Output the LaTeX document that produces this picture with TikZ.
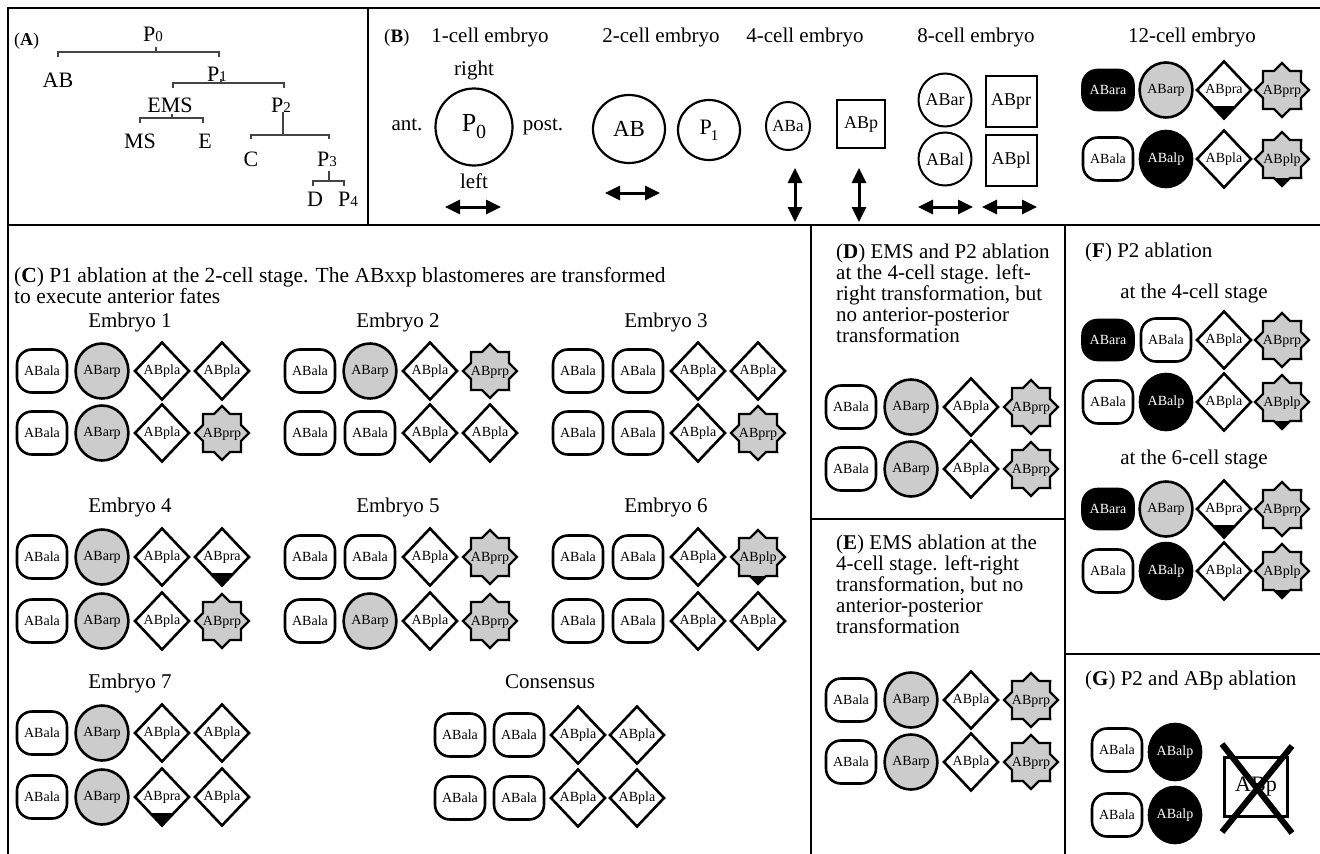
\documentclass[tikz,border=0pt]{standalone}
\usepackage{fontspec}
\setmainfont{Liberation Serif}
\usetikzlibrary{shapes.geometric,arrows.meta,calc}
\definecolor{cellgray}{HTML}{CCCCCC}
\definecolor{treegray}{HTML}{444444}
\newcommand\fsz[1]{\fontsize{#1}{#1}\selectfont}
\newcommand\zt[1]{\makebox[0pt]{\raisebox{-4.9pt}[0pt][0pt]{#1}}}
\tikzset{
 frame/.style={line width=2.4pt},
 cellbase/.style={line width=2.6pt, inner sep=0pt, outer sep=0pt, font=\fsz{14}},
 cw/.style={cellbase, draw, fill=white, rounded corners=15pt, minimum width=50pt, minimum height=43pt},
 cg/.style={cellbase, ellipse, draw, fill=cellgray, minimum width=48pt, minimum height=55pt},
 cd/.style={cellbase, diamond, draw, fill=white, minimum width=54pt, minimum height=57pt},
 cs/.style={cellbase, star, star points=8, star point ratio=1.31, draw, fill=cellgray, minimum size=54pt, line width=2.3pt},
 ck/.style={cellbase, draw, fill=black, text=white, rounded corners=15pt, minimum width=51pt, minimum height=40pt},
 ce/.style={cellbase, ellipse, draw, fill=black, text=white, minimum width=52pt, minimum height=56pt},
 txt/.style={font=\fsz{21}, inner sep=0pt, anchor=base west},
 ctxt/.style={font=\fsz{21}, inner sep=0pt, anchor=base},
 tree/.style={font=\fsz{22}, inner sep=0pt, anchor=base},
 tline/.style={draw=treegray, line width=1.3pt},
 dbl/.style={line width=3pt, {Triangle[length=15pt,width=14pt]}-{Triangle[length=15pt,width=14pt]}},
 bcell/.style={draw, line width=2pt, inner sep=0pt, font=\fsz{18}},
}
\newcommand\cellW[2]{\node[cw] (#1) at (#2) {ABala};}
\newcommand\cellG[2]{\node[cg] (#1) at (#2) {ABarp};}
\newcommand\cellD[2]{\node[cd] (#1) at (#2) {ABpla};}
\newcommand\cellT[2]{\node[cd] (#1) at (#2) {ABpra};
  \fill ($(#1.south)+(-11.8,-12.5)$) -- ($(#1.south)+(11.8,-12.5)$) -- (#1.south) -- cycle;}
\newcommand\cellS[2]{\node[cs] (#1) at (#2) {\zt{ABprp}};}
\newcommand\cellP[2]{\node[cs] (#1) at (#2) {\zt{ABplp}};
  \fill (#1.inner point 4) -- (#1.outer point 5) -- (#1.inner point 5) -- cycle;}
\newcommand\cellK[2]{\node[ck] (#1) at (#2) {ABara};}
\newcommand\cellE[2]{\node[ce] (#1) at (#2) {ABalp};}
\newcommand\cellrow[8]{%
 \csname cell#5\endcsname{#1-1}{#2,#4}%
 \csname cell#6\endcsname{#1-2}{#2+#3,#4}%
 \csname cell#7\endcsname{#1-3}{#2+2*#3,#4}%
 \csname cell#8\endcsname{#1-4}{#2+3*#3,#4}}
\begin{document}
\begin{tikzpicture}[x=1pt,y=-1pt]
\useasboundingbox (0,0) rectangle (1320,854);
\clip (0,0) rectangle (1320,854);
% frames
\draw[frame] (8,8) rectangle (1335,870);
\draw[frame] (368,8) -- (368,225);
\draw[frame] (8,225) -- (1335,225);
\draw[frame] (811,225) -- (811,870);
\draw[frame] (1065,225) -- (1065,870);
\draw[frame] (811,519) -- (1065,519);
\draw[frame] (1065,654) -- (1335,654);
% ---------- panel A
\node[font=\fsz{18},inner sep=0pt,anchor=base west] (labA) at (14,45) {(\textbf{A})};
\node[tree] (tP0) at (153,41) {P{\fsz{15}0}};
\node[tree] (tAB) at (58,87) {AB};
\node[tree] (tP1) at (217,81) {P{\fsz{15}1}};
\node[tree] (tEMS) at (170,112) {EMS};
\node[tree] (tP2) at (281,112) {P{\fsz{15}2}};
\node[tree] (tMS) at (140,148) {MS};
\node[tree] (tE) at (205,148) {E};
\node[tree] (tC) at (251,166) {C};
\node[tree] (tP3) at (327,166) {P{\fsz{15}3}};
\node[tree] (tD) at (315,206) {D};
\node[tree] (tP4) at (348,206) {P{\fsz{15}4}};
\draw[tline] (156,47) -- (156,52);
\draw[tline] (58,57) -- (58,52) -- (219,52) -- (219,57);
\draw[tline] (221,79) -- (221,83);
\draw[tline] (173,88) -- (173,83) -- (284,83) -- (284,88);
\draw[tline] (172,114) -- (172,118);
\draw[tline] (140,123) -- (140,118) -- (203,118) -- (203,123);
\draw[tline] (283,112) -- (283,135);
\draw[tline] (251,139) -- (251,135) -- (329,135) -- (329,139);
\draw[tline] (329,171) -- (329,181);
\draw[tline] (313,186) -- (313,181) -- (344,181) -- (344,186);
% ---------- panel B
\node[font=\fsz{19},inner sep=0pt,anchor=base west] (labB) at (384,42) {(\textbf{B})};
\node[ctxt] (h1) at (490,42) {1-cell embryo};
\node[ctxt] (h2) at (661,42) {2-cell embryo};
\node[ctxt] (h4) at (805,42) {4-cell embryo};
\node[ctxt] (h8) at (976,42) {8-cell embryo};
\node[ctxt] (h12) at (1192,42) {12-cell embryo};
\node[ctxt] (rightlab) at (474,75) {right};
\node[ctxt] (antlab) at (407,130) {ant.};
\node[ctxt] (postlab) at (543,130) {post.};
\node[ctxt] (leftlab) at (474,188) {left};
\node[draw, circle, line width=2.2pt, minimum size=77pt, inner sep=0pt, font=\fsz{26}] (P0) at (474,127) {P\raisebox{-7pt}{\fsz{20}0}};
\node[draw, ellipse, line width=2.2pt, minimum width=72pt, minimum height=68pt, inner sep=0pt, font=\fsz{23}] (AB) at (629,129) {AB};
\node[draw, ellipse, line width=2.2pt, minimum width=62pt, minimum height=60pt, inner sep=0pt, font=\fsz{22}] (P1) at (709,130) {P\kern-1pt\raisebox{-6pt}{\fsz{15}1}};
\node[bcell, ellipse, minimum width=44pt, minimum height=48pt, font=\fsz{17}] (ABa) at (788,126) {ABa};
\node[bcell, rectangle, minimum size=48pt] (ABp) at (861,124) {ABp};
\node[bcell, circle, minimum size=53pt] (ABar) at (945,100) {ABar};
\node[bcell, circle, minimum size=53pt] (ABal) at (945,159) {ABal};
\node[bcell, rectangle, minimum size=51pt] (ABpr) at (1011,101) {ABpr};
\node[bcell, rectangle, minimum size=51pt] (ABpl) at (1011,160) {ABpl};
\coordinate (a1l) at (445,207); \coordinate (a1r) at (501,207);
\coordinate (a2l) at (605,193); \coordinate (a2r) at (660,193);
\coordinate (a4t) at (795,168); \coordinate (a4b) at (795,222);
\coordinate (a5t) at (859,168); \coordinate (a5b) at (859,222);
\coordinate (a8l) at (918,207); \coordinate (a8r) at (973,207);
\coordinate (a9l) at (982,207); \coordinate (a9r) at (1037,207);
\draw[dbl] (a1l) -- (a1r);
\draw[dbl] (a2l) -- (a2r);
\draw[dbl] (a4t) -- (a4b);
\draw[dbl] (a5t) -- (a5b);
\draw[dbl] (a8l) -- (a8r);
\draw[dbl] (a9l) -- (a9r);
\cellrow{b12a}{1108}{58}{90}{K}{G}{T}{S}
\cellrow{b12b}{1108}{58}{159}{W}{E}{D}{P}
% ---------- panel C
\node[txt, font=\fsz{21.5}] (Ct1) at (14,282) {(\textbf{C}) P1 ablation at the 2-cell stage. The ABxxp blastomeres are transformed};
\node[txt, font=\fsz{21.5}] (Ct2) at (14,303) {to execute anterior fates};
\node[ctxt] (Emb1) at (130,327) {Embryo 1};
\node[ctxt] (Emb2) at (398,327) {Embryo 2};
\node[ctxt] (Emb3) at (666,327) {Embryo 3};
\node[ctxt] (Emb4) at (130,512) {Embryo 4};
\node[ctxt] (Emb5) at (398,512) {Embryo 5};
\node[ctxt] (Emb6) at (666,512) {Embryo 6};
\node[ctxt] (Emb7) at (130,688) {Embryo 7};
\node[ctxt] (Cons) at (550,688) {Consensus};
\cellrow{e1a}{42}{60}{371}{W}{G}{D}{D}
\cellrow{e1b}{42}{60}{433}{W}{G}{D}{S}
\cellrow{e2a}{310}{60}{371}{W}{G}{D}{S}
\cellrow{e2b}{310}{60}{433}{W}{W}{D}{D}
\cellrow{e3a}{578}{60}{371}{W}{W}{D}{D}
\cellrow{e3b}{578}{60}{433}{W}{W}{D}{S}
\cellrow{e4a}{42}{60}{557}{W}{G}{D}{T}
\cellrow{e4b}{42}{60}{621}{W}{G}{D}{S}
\cellrow{e5a}{310}{60}{557}{W}{W}{D}{S}
\cellrow{e5b}{310}{60}{621}{W}{G}{D}{S}
\cellrow{e6a}{578}{60}{557}{W}{W}{D}{P}
\cellrow{e6b}{578}{60}{621}{W}{W}{D}{D}
\cellrow{e7a}{42}{60}{733}{W}{G}{D}{D}
\cellrow{e7b}{42}{60}{797}{W}{G}{T}{D}
\cellrow{csa}{460}{59}{735}{W}{W}{D}{D}
\cellrow{csb}{460}{59}{798}{W}{W}{D}{D}
% ---------- panel D
\node[txt] (Dt1) at (836,258) {(\textbf{D}) EMS and P2 ablation};
\node[txt] (Dt2) at (836,279) {at the 4-cell stage. left-};
\node[txt] (Dt3) at (836,300) {right transformation, but};
\node[txt] (Dt4) at (836,321) {no anterior-posterior};
\node[txt] (Dt5) at (836,342) {transformation};
\cellrow{da}{851}{60}{407}{W}{G}{D}{S}
\cellrow{db}{851}{60}{469}{W}{G}{D}{S}
% ---------- panel E
\node[txt] (Et1) at (836,549) {(\textbf{E}) EMS ablation at the};
\node[txt] (Et2) at (836,570) {4-cell stage. left-right};
\node[txt] (Et3) at (836,591) {transformation, but no};
\node[txt] (Et4) at (836,612) {anterior-posterior};
\node[txt] (Et5) at (836,633) {transformation};
\cellrow{ea}{851}{60}{700}{W}{G}{D}{S}
\cellrow{eb}{851}{60}{762}{W}{G}{D}{S}
% ---------- panel F
\node[txt] (Ft1) at (1085,257) {(\textbf{F}) P2 ablation};
\node[ctxt] (Ft2) at (1194,298) {at the 4-cell stage};
\cellrow{fa}{1108}{58}{340}{K}{W}{D}{S}
\cellrow{fb}{1108}{58}{402}{W}{E}{D}{P}
\node[ctxt] (Ft3) at (1194,464) {at the 6-cell stage};
\cellrow{fc}{1108}{58}{509}{K}{G}{T}{S}
\cellrow{fd}{1108}{58}{571}{W}{E}{D}{P}
% ---------- panel G
\node[txt] (Gt1) at (1085,685) {(\textbf{G}) P2 and ABp ablation};
\cellW{g1}{1117,750}
\cellE{g2}{1175,752}
\cellW{g3}{1117,815}
\cellE{g4}{1175,815}
\node[draw, line width=2.2pt, minimum width=63pt, minimum height=59pt, inner sep=0pt, font=\fsz{22}] (gABp) at (1256,787) {ABp};
\coordinate (x1) at (1222,744); \coordinate (x2) at (1292,833);
\coordinate (x3) at (1292,746); \coordinate (x4) at (1222,832);
\draw[line width=6pt] (x1) -- (x2);
\draw[line width=6pt] (x3) -- (x4);
\end{tikzpicture}
\end{document}
